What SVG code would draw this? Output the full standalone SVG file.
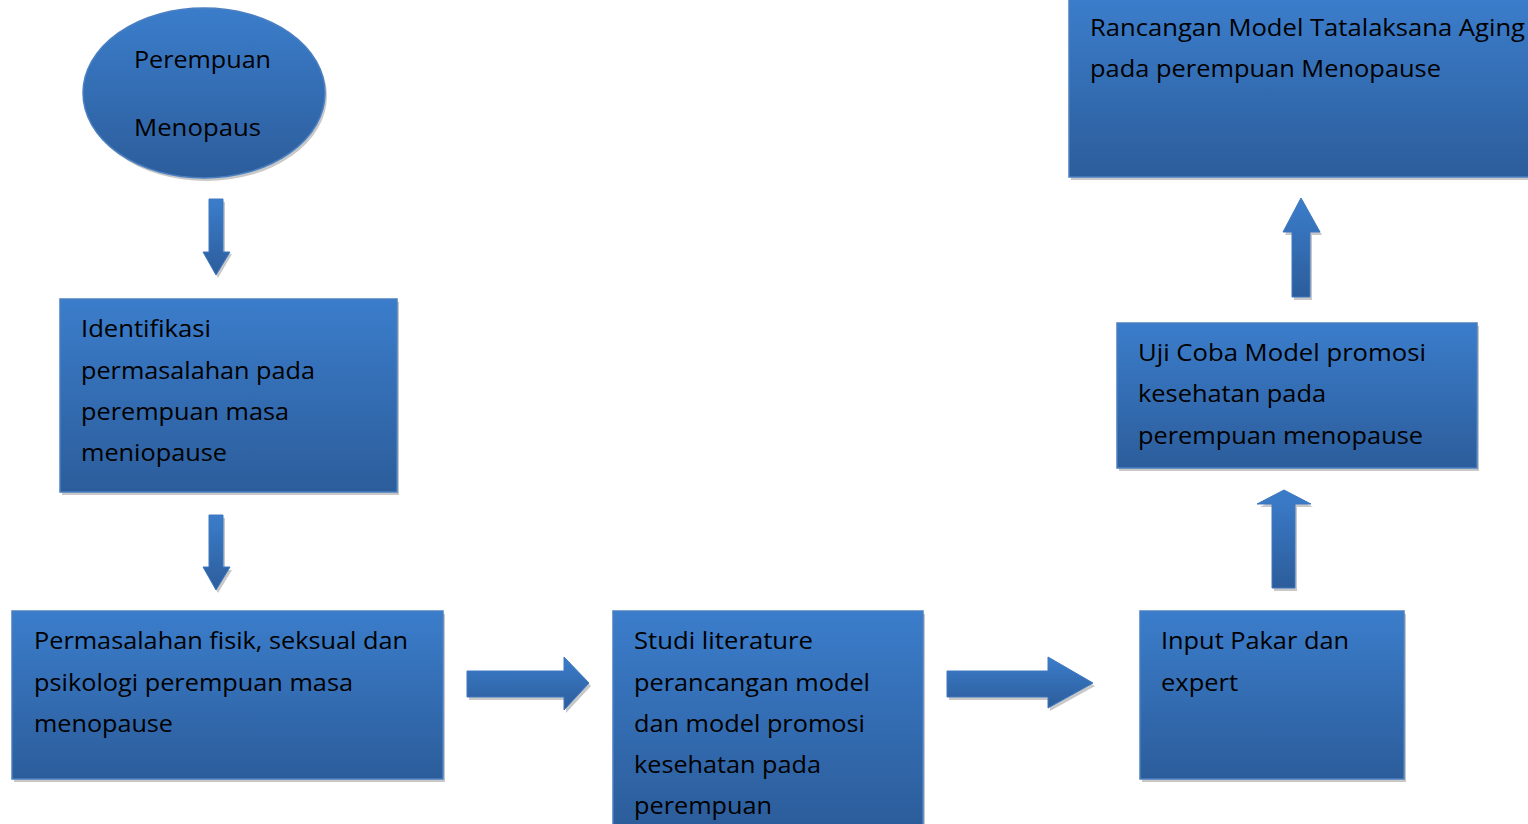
<svg xmlns="http://www.w3.org/2000/svg" width="1528" height="824" viewBox="0 0 1528 824">
<defs>
<linearGradient id="g" x1="0" y1="0" x2="0" y2="1">
<stop offset="0" stop-color="#3B7DCB"/>
<stop offset="1" stop-color="#2C5D9B"/>
</linearGradient>
<linearGradient id="gh" x1="0" y1="0" x2="0" y2="1">
<stop offset="0" stop-color="#3B7DCB"/>
<stop offset="1" stop-color="#2C5D9B"/>
</linearGradient>
</defs>
<style>
.box{fill:url(#g);stroke:#4A7FC0;stroke-width:1.5}
.sh{fill:#c8c8c8}
.t{font-family:"Open Sans","Noto Sans",sans-serif;font-size:24px;fill:#000}
.ar{fill:url(#gh);stroke:#3F78BF;stroke-width:1}
</style>
<rect width="1528" height="824" fill="#fff"/>

<g id="node-perempuan">
<ellipse cx="206" cy="96" rx="121" ry="85" class="sh"/>
<ellipse cx="204" cy="93" rx="121" ry="85" class="box"/>
<text class="t" x="134" y="68" textLength="137" lengthAdjust="spacingAndGlyphs">Perempuan</text>
<text class="t" x="134" y="136" textLength="127" lengthAdjust="spacingAndGlyphs">Menopaus</text>
</g>

<g id="node-identifikasi">
<rect x="62" y="302" width="337" height="193" class="sh"/>
<rect x="60" y="299" width="337" height="193" class="box"/>
<text class="t" x="81" y="337" textLength="130" lengthAdjust="spacingAndGlyphs">Identifikasi</text>
<text class="t" x="81" y="379" textLength="234" lengthAdjust="spacingAndGlyphs">permasalahan pada</text>
<text class="t" x="81" y="420" textLength="208" lengthAdjust="spacingAndGlyphs">perempuan masa</text>
<text class="t" x="81" y="461" textLength="146" lengthAdjust="spacingAndGlyphs">meniopause</text>
</g>

<g id="node-permasalahan">
<rect x="14" y="614" width="431" height="168" class="sh"/>
<rect x="12" y="611" width="431" height="168" class="box"/>
<text class="t" x="34" y="649" textLength="374" lengthAdjust="spacingAndGlyphs">Permasalahan fisik, seksual dan</text>
<text class="t" x="34" y="691" textLength="319" lengthAdjust="spacingAndGlyphs">psikologi perempuan masa</text>
<text class="t" x="34" y="732" textLength="139" lengthAdjust="spacingAndGlyphs">menopause</text>
</g>

<g id="node-studi">
<rect x="615" y="614" width="310" height="214" class="sh"/>
<rect x="613" y="611" width="310" height="214" class="box"/>
<text class="t" x="634" y="649" textLength="179" lengthAdjust="spacingAndGlyphs">Studi literature</text>
<text class="t" x="634" y="691" textLength="236" lengthAdjust="spacingAndGlyphs">perancangan model</text>
<text class="t" x="634" y="732" textLength="231" lengthAdjust="spacingAndGlyphs">dan model promosi</text>
<text class="t" x="634" y="773" textLength="187" lengthAdjust="spacingAndGlyphs">kesehatan pada</text>
<text class="t" x="634" y="814" textLength="138" lengthAdjust="spacingAndGlyphs">perempuan</text>
</g>

<g id="node-input">
<rect x="1142" y="614" width="264" height="168" class="sh"/>
<rect x="1140" y="611" width="264" height="168" class="box"/>
<text class="t" x="1161" y="649" textLength="188" lengthAdjust="spacingAndGlyphs">Input Pakar dan</text>
<text class="t" x="1161" y="691" textLength="77" lengthAdjust="spacingAndGlyphs">expert</text>
</g>

<g id="node-ujicoba">
<rect x="1119" y="326" width="360" height="145" class="sh"/>
<rect x="1117" y="323" width="360" height="145" class="box"/>
<text class="t" x="1138" y="361" textLength="288" lengthAdjust="spacingAndGlyphs">Uji Coba Model promosi</text>
<text class="t" x="1138" y="402" textLength="188" lengthAdjust="spacingAndGlyphs">kesehatan pada</text>
<text class="t" x="1138" y="444" textLength="285" lengthAdjust="spacingAndGlyphs">perempuan menopause</text>
</g>

<g id="node-rancangan">
<rect x="1071" y="3" width="470" height="177" class="sh"/>
<rect x="1069" y="-2" width="470" height="179" class="box"/>
<text class="t" x="1090" y="36" textLength="435" lengthAdjust="spacingAndGlyphs">Rancangan Model Tatalaksana Aging</text>
<text class="t" x="1090" y="77" textLength="351" lengthAdjust="spacingAndGlyphs">pada perempuan Menopause</text>
</g>

<g id="connectors">
<polygon class="sh" points="211,202 225,202 225,254 232,254 218,278 205,254 211,254"/>
<polygon class="ar" points="209,199 223,199 223,252 230,252 216,275 203,252 209,252"/>
<polygon class="sh" points="211,518 225,518 225,570 232,570 218,593 205,570 211,570"/>
<polygon class="ar" points="209,515 223,515 223,567 230,567 216,590 203,567 209,567"/>
<polygon class="sh" points="469,674 566,674 566,660 591,686 566,713 566,700 469,700"/>
<polygon class="ar" points="467,671 564,671 564,657 589,683 564,710 564,697 467,697"/>
<polygon class="sh" points="949,674 1050,674 1050,660 1095,686 1050,711 1050,700 949,700"/>
<polygon class="ar" points="947,671 1048,671 1048,657 1093,683 1048,708 1048,697 947,697"/>
<polygon class="sh" points="1274,507 1260,507 1286,493 1313,507 1297,507 1297,591 1274,591"/>
<polygon class="ar" points="1272,504 1257,504 1284,490 1311,504 1295,504 1295,588 1272,588"/>
<polygon class="sh" points="1294,235 1285,235 1303,201 1322,235 1312,235 1312,300 1294,300"/>
<polygon class="ar" points="1292,232 1283,232 1301,198 1320,232 1310,232 1310,297 1292,297"/>
</g>
</svg>
